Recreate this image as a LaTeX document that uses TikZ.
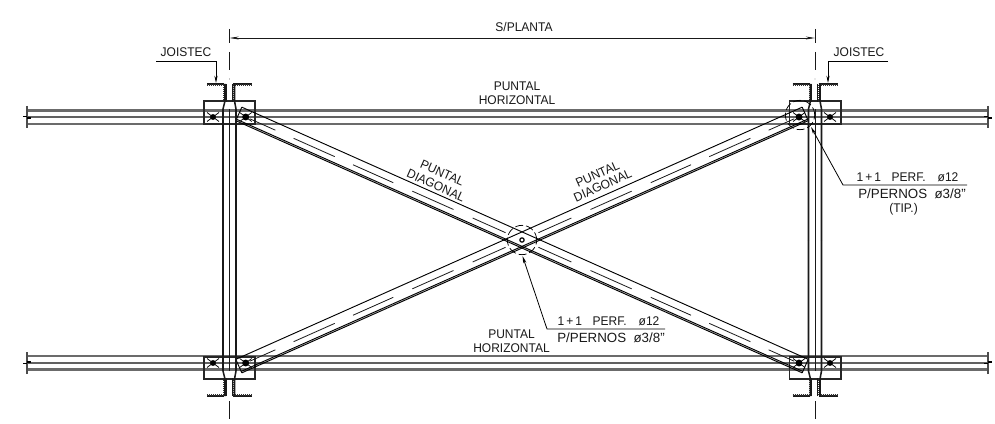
\documentclass[tikz,border=0pt]{standalone}
\usepackage{fontspec}
\setmainfont{Liberation Sans}
\usetikzlibrary{arrows.meta}
\definecolor{railgray}{gray}{0.42}
\tikzset{
  lbl/.style={inner sep=0pt,font=\fontsize{9}{11}\selectfont,text=black!90},
  thinl/.style={line width=0.55pt,draw=black!90},
  edge/.style={line width=0.7pt,draw=black},
  heavy/.style={line width=1.15pt,draw=black!90},
  rail/.style={line width=1.9pt,draw=railgray},
  railthin/.style={line width=1.1pt,draw=black!62},
  hatchl/.style={line width=1.5pt,draw=black!80,dash pattern=on 1pt off 0.5pt},
  cdash/.style={line width=0.6pt,draw=black!90},
  detail/.style={line width=0.55pt,draw=black,dash pattern=on 6pt off 2.2pt},
  leader/.style={line width=0.6pt,draw=black,-{Stealth[length=5.5pt,width=2.4pt]}},
  plate/.style={line width=0.8pt,draw=black!85},
}
\newcommand{\tall}[1]{\scalebox{1}[1.05]{#1}}
\newcommand{\boltmark}[3]{% x, y, blob radius
  \draw[line width=0.55pt] (#1-6,#2-4.5) -- (#1+6,#2+4.5) (#1-6,#2+4.5) -- (#1+6,#2-4.5);
  \fill[black] (#1,#2) circle (#3);
}
\newcommand{\colhead}[1]{% joist top at centre x = #1, in the frame of the top end
  \begin{scope}[shift={(#1,0)}]
    \draw[heavy] (-22.5,84) -- (-5.5,84) (3.5,84) -- (22.5,84);
    \draw[hatchl] (-22.5,84.6) -- (-5.5,84.6) (3.5,84.6) -- (22.5,84.6);
    \draw[hatchl] (-5.5,85) -- (-5.5,101) (4,85) -- (4,101);
    \draw[thinl] (-3.5,84) -- (-3.5,102) (2.5,84) -- (2.5,102);
    \draw[heavy] (-4.5,84) -- (-4.5,101) -- (-6.5,109) -- (-6.5,240)
                 (5,84) -- (5,101) -- (6.5,109) -- (6.5,240);
    \draw[thinl] (0,109) -- (0,240);
  \end{scope}
}
\newcommand{\diagbar}[1]{% rotation angle
  \begin{scope}[shift={(522,240)},rotate=#1]
    \draw[edge] (-310,7.4) -- (310,7.4) (-310,5.8) -- (310,5.8);
    \draw[edge] (-310,-7.4) -- (310,-7.4);
    \draw[edge] (-310,7.4) -- (-310,-7.4) (310,7.4) -- (310,-7.4);
    \foreach \a/\b in {18/54,75/120,141/185,205/250,270/298}{
      \draw[cdash] (\a,0) -- (\b,0) (-\a,0) -- (-\b,0);
    }
  \end{scope}
}
\begin{document}
\begin{tikzpicture}[x=0.75pt,y=-0.75pt]
\useasboundingbox (0,0) rectangle (995,424);
\fill[white] (0,0) rectangle (995,424);

% named points
\coordinate (dimL) at (229.5,38);
\coordinate (dimR) at (815,38);
\coordinate (hubC) at (522,240);
\coordinate (hubTip) at (522.5,256);
\coordinate (cornC) at (800,115);
\coordinate (cornTip) at (811,127);

% rails
\foreach \yy/\sgn in {0/1,480/-1}{
  \begin{scope}[shift={(0,\yy)},yscale=\sgn]
    \draw[rail] (27,110.5) -- (988,110.5);
    \draw[railthin] (27,117) -- (988,117);
    \draw[rail] (27,124) -- (988,124);
    \foreach \xe in {27,988}{
      \draw[line width=0.8pt,draw=black!70] (\xe,106) -- (\xe,128);
      \draw[line width=0.9pt] (\xe-4,116.5) -- (\xe,116.5) (\xe,118) -- (\xe+4,118);
    }
  \end{scope}
}

% gusset plates
\draw[plate] (204,101) rectangle (255,124);
\draw[plate] (789.5,101) rectangle (841,124);
\draw[plate] (204,357) rectangle (255,379);
\draw[plate] (789.5,357) rectangle (841,379);

% diagonals
\diagbar{-24}
\diagbar{24}

% columns
\foreach \xc in {229.5,815}{
  \colhead{\xc}
  \begin{scope}[shift={(0,480)},yscale=-1]
    \colhead{\xc}
  \end{scope}
}

% bolts
\boltmark{213}{117}{2.2pt}
\boltmark{245.7}{117}{2.6pt}
\boltmark{799}{117}{2.6pt}
\boltmark{830}{117}{2.2pt}
\boltmark{213}{363}{2.2pt}
\boltmark{245.7}{363}{2.6pt}
\boltmark{799}{363}{2.6pt}
\boltmark{830}{363}{2.2pt}

% centre hole and detail circles
\draw[line width=0.9pt,fill=white] (hubC) circle (1.6pt);
\draw[detail] (hubC) circle (11pt);
\draw[detail] (cornC) circle (11pt);

% centre lines of the joists
\foreach \xc in {229.5,815}{
  \draw[thinl] (\xc,29) -- (\xc,43) (\xc,52) -- (\xc,70);
  \fill (\xc,79) circle (0.35pt);
  \draw[thinl] (\xc,401) -- (\xc,419);
}

% dimension
\draw[thinl,{Stealth[length=7pt,width=2.2pt]}-{Stealth[length=7pt,width=2.2pt]}] (dimL) -- (dimR);
\node[lbl] (splanta) at (524,27) {\tall{S/PLANTA}};

% JOISTEC labels
\node[lbl] (joiL) at (186,52) {\tall{JOISTEC}};
\node[lbl] (joiR) at (859,52) {\tall{JOISTEC}};
\coordinate (joiLa) at (156,61);
\coordinate (joiLb) at (216,61);
\coordinate (joiLc) at (216,83);
\coordinate (joiRa) at (888,61);
\coordinate (joiRb) at (828,61);
\coordinate (joiRc) at (828,83);
\draw[leader] (joiLa) -- (joiLb) -- (joiLc);
\draw[leader] (joiRa) -- (joiRb) -- (joiRc);

% member labels
\node[lbl] (phT1) at (517,86) {\tall{PUNTAL}};
\node[lbl] (phT2) at (517,100.5) {\tall{HORIZONTAL}};
\node[lbl] (phB1) at (511.5,334) {\tall{PUNTAL}};
\node[lbl] (phB2) at (511.5,348) {\tall{HORIZONTAL}};
\node[lbl,rotate=-24] (pdL1) at (442.2,173) {\tall{PUNTAL}};
\node[lbl,rotate=-24] (pdL2) at (436,185.5) {\tall{DIAGONAL}};
\node[lbl,rotate=24] (pdR1) at (597.5,174) {\tall{PUNTAL}};
\node[lbl,rotate=24] (pdR2) at (602.7,185.5) {\tall{DIAGONAL}};

% hole notes
\newcommand{\perfnote}{\tall{1\hspace{1.5pt}+\hspace{1.5pt}1\hspace{8pt}PERF.\hspace{9pt}ø12}}
\newcommand{\boltnote}{\fontsize{10}{11}\selectfont P/PERNOS\ \ ø3/8"}
\node[lbl] (perfC) at (608.5,321.5) {\perfnote};
\node[lbl] (perC) at (611,338) {\boltnote};
\coordinate (hubA) at (665,329);
\coordinate (hubB) at (547,329);
\draw[leader] (hubA) -- (hubB) -- (hubTip);

\node[lbl] (perfR) at (907.5,177.5) {\perfnote};
\node[lbl] (perR) at (912,194) {\boltnote};
\node[lbl] (tip) at (903.5,209) {\tall{(TIP.)}};
\coordinate (cornA) at (967,185);
\coordinate (cornB) at (843,185);
\draw[leader] (cornA) -- (cornB) -- (cornTip);
\end{tikzpicture}
\end{document}
